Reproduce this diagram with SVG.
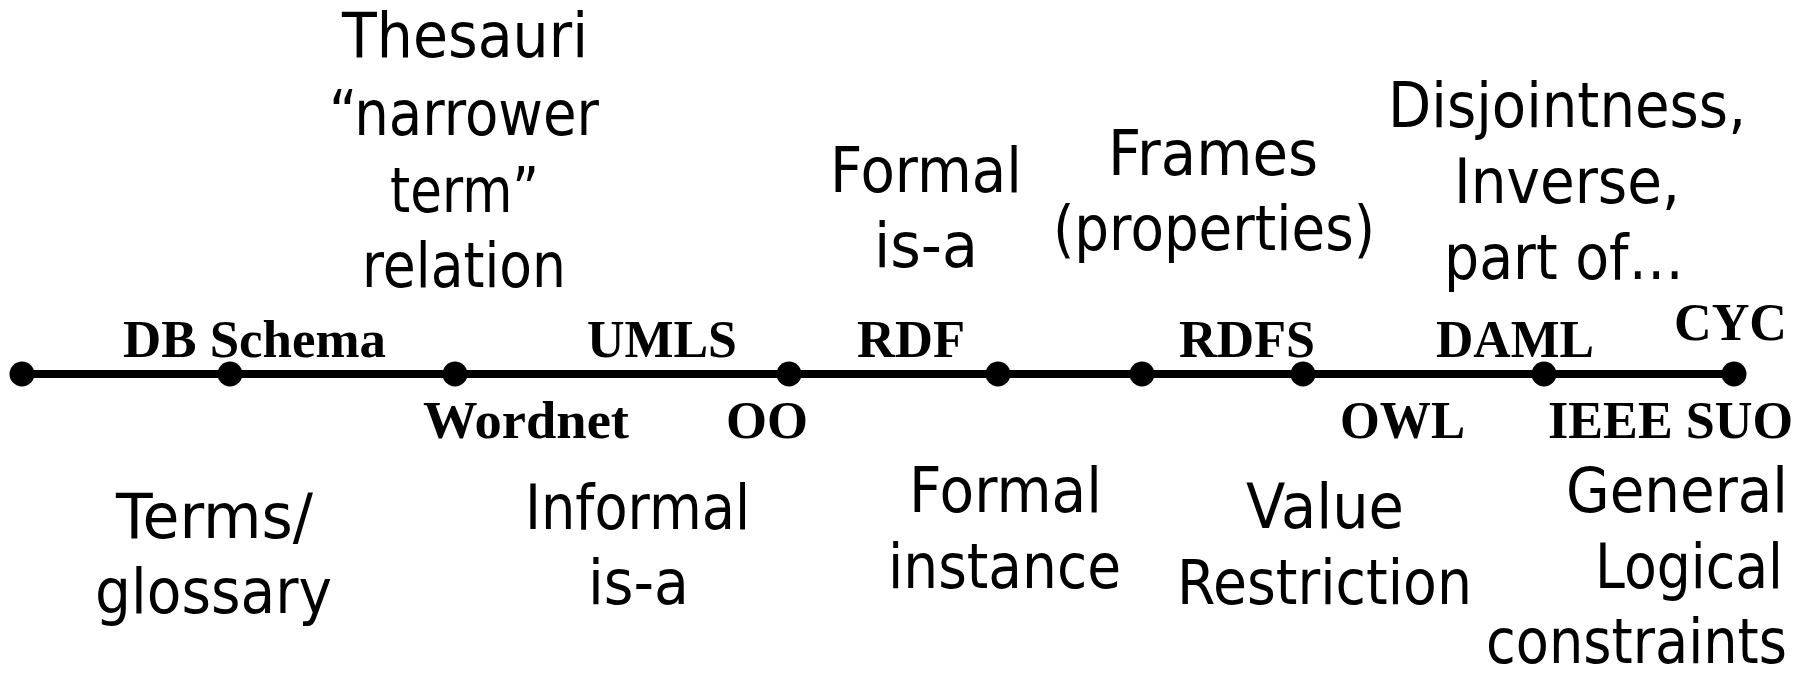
<svg xmlns="http://www.w3.org/2000/svg" width="1797" height="678" viewBox="0 0 1797 678">
<style>
.bg{fill:#fff}
.axis{stroke:#000;stroke-width:8;fill:none}
.dot{fill:#000}
.lbl{font-family:"Liberation Serif","Times New Roman",serif;font-weight:bold;font-size:52px;fill:#000}
.txt{font-family:"DejaVu Sans","Noto Sans",sans-serif;font-size:63px;fill:#000}
</style>
<rect class="bg" x="0" y="0" width="1797" height="678"/>
<g id="connectors">
<line class="axis" x1="22" y1="374" x2="1734" y2="374"/>
</g>
<g id="dots">
<circle class="dot" cx="22" cy="374" r="12.5"/>
<circle class="dot" cx="230" cy="374" r="12.5"/>
<circle class="dot" cx="455" cy="374" r="12.5"/>
<circle class="dot" cx="789" cy="374" r="12.5"/>
<circle class="dot" cx="998" cy="374" r="12.5"/>
<circle class="dot" cx="1142" cy="374" r="12.5"/>
<circle class="dot" cx="1303" cy="374" r="12.5"/>
<circle class="dot" cx="1544" cy="374" r="12.5"/>
<circle class="dot" cx="1734" cy="374" r="12.5"/>
</g>
<g id="system-labels">
<text class="lbl" x="123" y="357" textLength="263" lengthAdjust="spacingAndGlyphs">DB Schema</text>
<text class="lbl" x="587" y="357" textLength="150" lengthAdjust="spacingAndGlyphs">UMLS</text>
<text class="lbl" x="857" y="357" textLength="108" lengthAdjust="spacingAndGlyphs">RDF</text>
<text class="lbl" x="1179" y="357" textLength="136" lengthAdjust="spacingAndGlyphs">RDFS</text>
<text class="lbl" x="1436" y="357" textLength="158" lengthAdjust="spacingAndGlyphs">DAML</text>
<text class="lbl" x="1674" y="340" textLength="113" lengthAdjust="spacingAndGlyphs">CYC</text>
<text class="lbl" x="423" y="438" textLength="206" lengthAdjust="spacingAndGlyphs">Wordnet</text>
<text class="lbl" x="726" y="438" textLength="82" lengthAdjust="spacingAndGlyphs">OO</text>
<text class="lbl" x="1340" y="438" textLength="125" lengthAdjust="spacingAndGlyphs">OWL</text>
<text class="lbl" x="1548" y="438" textLength="245" lengthAdjust="spacingAndGlyphs">IEEE SUO</text>
</g>
<g id="thesauri">
<text class="txt" x="342" y="57" textLength="246" lengthAdjust="spacingAndGlyphs">Thesauri</text>
<text class="txt" x="329" y="135" textLength="270" lengthAdjust="spacingAndGlyphs">“narrower</text>
<text class="txt" x="390" y="212" textLength="149" lengthAdjust="spacingAndGlyphs">term”</text>
<text class="txt" x="362" y="287" textLength="204" lengthAdjust="spacingAndGlyphs">relation</text>
</g>
<g id="formal-isa">
<text class="txt" x="830" y="192" textLength="192" lengthAdjust="spacingAndGlyphs">Formal</text>
<text class="txt" x="874" y="267" textLength="104" lengthAdjust="spacingAndGlyphs">is-a</text>
</g>
<g id="frames">
<text class="txt" x="1108" y="175" textLength="210" lengthAdjust="spacingAndGlyphs">Frames</text>
<text class="txt" x="1053" y="250" textLength="322" lengthAdjust="spacingAndGlyphs">(properties)</text>
</g>
<g id="disjointness">
<text class="txt" x="1388" y="127" textLength="358" lengthAdjust="spacingAndGlyphs">Disjointness,</text>
<text class="txt" x="1454" y="203" textLength="226" lengthAdjust="spacingAndGlyphs">Inverse,</text>
<text class="txt" x="1444" y="279" textLength="240" lengthAdjust="spacingAndGlyphs">part of…</text>
</g>
<g id="terms">
<text class="txt" x="116" y="538" textLength="197" lengthAdjust="spacingAndGlyphs">Terms/</text>
<text class="txt" x="95" y="613" textLength="237" lengthAdjust="spacingAndGlyphs">glossary</text>
</g>
<g id="informal-isa">
<text class="txt" x="525" y="529" textLength="225" lengthAdjust="spacingAndGlyphs">Informal</text>
<text class="txt" x="588" y="604" textLength="101" lengthAdjust="spacingAndGlyphs">is-a</text>
</g>
<g id="formal-instance">
<text class="txt" x="909" y="512" textLength="193" lengthAdjust="spacingAndGlyphs">Formal</text>
<text class="txt" x="888" y="588" textLength="233" lengthAdjust="spacingAndGlyphs">instance</text>
</g>
<g id="value-restriction">
<text class="txt" x="1246" y="528" textLength="158" lengthAdjust="spacingAndGlyphs">Value</text>
<text class="txt" x="1177" y="604" textLength="295" lengthAdjust="spacingAndGlyphs">Restriction</text>
</g>
<g id="general-logical">
<text class="txt" x="1566" y="512" textLength="222" lengthAdjust="spacingAndGlyphs">General</text>
<text class="txt" x="1595" y="588" textLength="188" lengthAdjust="spacingAndGlyphs">Logical</text>
<text class="txt" x="1486" y="663" textLength="301" lengthAdjust="spacingAndGlyphs">constraints</text>
</g>
</svg>
